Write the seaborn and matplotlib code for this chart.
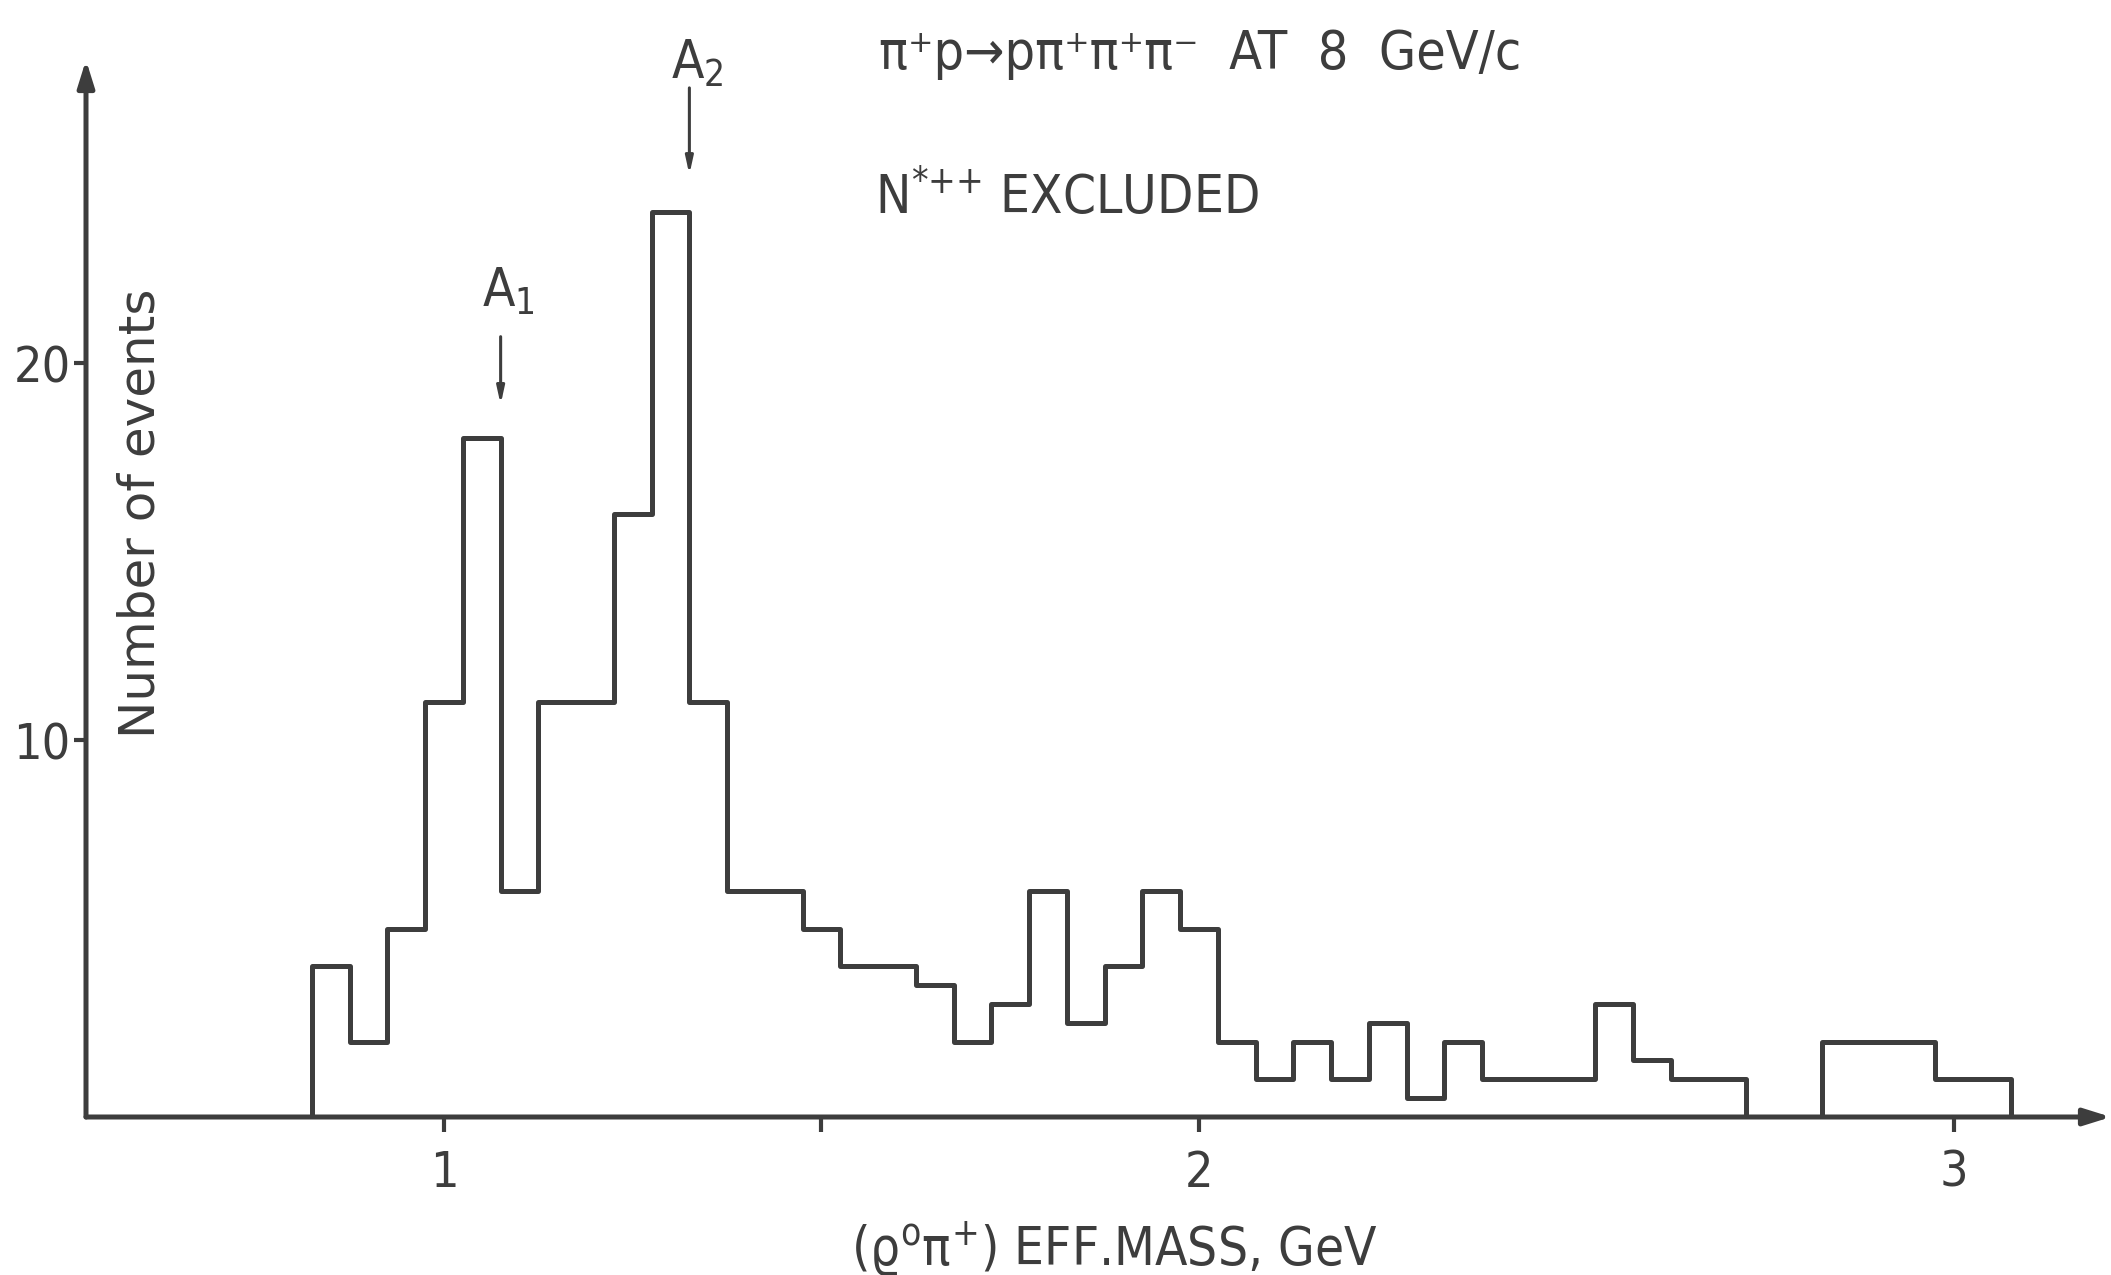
import numpy as np
import matplotlib
matplotlib.use("Agg")
import matplotlib.pyplot as plt
import seaborn as sns

# bin centres (GeV), 50 MeV bins, and number of events
mass_gev = [0.85, 0.90, 0.95, 1.00, 1.05, 1.10, 1.15, 1.20, 1.25, 1.30,
            1.35, 1.40, 1.45, 1.50, 1.55, 1.60, 1.65, 1.70, 1.75, 1.80,
            1.85, 1.90, 1.95, 2.00, 2.05, 2.10, 2.15, 2.20, 2.25, 2.30,
            2.35, 2.40, 2.45, 2.50, 2.55, 2.60, 2.65, 2.70, 2.75, 2.80,
            2.85, 2.90, 2.95, 3.00, 3.05]
n_events = [4, 2, 5, 11, 18, 6, 11, 11, 16, 24,
            11, 6, 6, 5, 4, 4, 3.5, 2, 3, 6,
            2.5, 4, 6, 5, 2, 1, 2, 1, 2.5, 0.5,
            2, 1, 1, 1, 3, 1.5, 1, 1, 0, 0,
            2, 2, 2, 1, 1]

x_ticks = [1, 2, 3]
x_minor = [1.5]
y_ticks = [10, 20]

peak_names = [r"$\mathregular{A_1}$", r"$\mathregular{A_2}$"]
peak_mass = [1.075, 1.325]

INK = "#3d3d3d"

sns.set_style("white")
plt.rcParams["font.family"] = ["Liberation Sans Narrow", "DejaVu Sans"]
plt.rcParams["font.stretch"] = "condensed"
plt.rcParams["mathtext.fontset"] = "dejavusans"

fig = plt.figure(figsize=(21.11, 12.75), dpi=100)
ax = fig.add_axes([86 / 2111, 158 / 1275, 2025 / 2111, 1057 / 1275])

# one empty bin on each side so the outline drops to the baseline
sns.histplot(x=mass_gev, weights=n_events, binwidth=0.05, binrange=(0.775, 3.125),
             element="step", fill=False, color=INK, linewidth=3.6, ax=ax)

ax.set_xlim(0.5258, 3.208)
ax.set_ylim(0, 28.04)

# axes drawn as arrows like the hand-drawn original
for s in ax.spines.values():
    s.set_visible(False)
for tip in [(1, 0), (0, 1)]:
    ax.annotate("", xy=tip, xytext=(0, 0), xycoords="axes fraction",
                arrowprops=dict(arrowstyle="-|>,head_length=1.6,head_width=0.5",
                                color=INK, lw=3.6, shrinkA=0, shrinkB=0))

ax.set_xticks(x_ticks)
ax.set_xticks(x_minor, minor=True)
ax.set_yticks(y_ticks)
ax.tick_params(axis="x", which="both", direction="out", length=11, width=3,
               color=INK, labelcolor=INK, labelsize=36, pad=12, bottom=True)
ax.tick_params(axis="y", direction="out", length=9, width=3, color=INK,
               labelcolor=INK, labelsize=36, pad=2, left=True)

ax.set_xlabel(r"$(\mathrm{\varrho}^{\mathrm{o}}\mathrm{\pi}^{+})$ EFF.MASS, GeV",
              fontsize=38, color=INK)
ax.xaxis.label.set_va("center")
ax.xaxis.set_label_coords(0.508, -0.125)
ax.set_ylabel("Number of events", fontsize=36, color=INK,
              family="DejaVu Sans", stretch="normal")
ax.yaxis.label.set_va("center")
ax.yaxis.set_label_coords(0.0267, 0.571)

# resonance markers
label_y = [21.5, 27.56]
arrow_top = [20.7, 27.3]
arrow_bot = [18.9, 25.0]
for name, m, ly, a0, a1 in zip(peak_names, peak_mass, label_y, arrow_top, arrow_bot):
    ax.text(m - 0.025, ly, name, fontsize=38, color=INK, ha="left", va="baseline")
    ax.annotate("", xy=(m, a1), xytext=(m, a0),
                arrowprops=dict(arrowstyle="-|>,head_length=1.0,head_width=0.22",
                                color=INK, lw=2.2, shrinkA=0, shrinkB=0))

ax.text(1.576, 28.2, "π⁺p→pπ⁺π⁺π⁻  AT  8  GeV/c",
        fontsize=38.5, color=INK, ha="left", va="center")
ax.text(1.571, 24.4, r"N$^{{*}{+}{+}}$ EXCLUDED", fontsize=38, color=INK,
        ha="left", va="center")

fig.savefig("out.png", dpi=100, facecolor="white")
